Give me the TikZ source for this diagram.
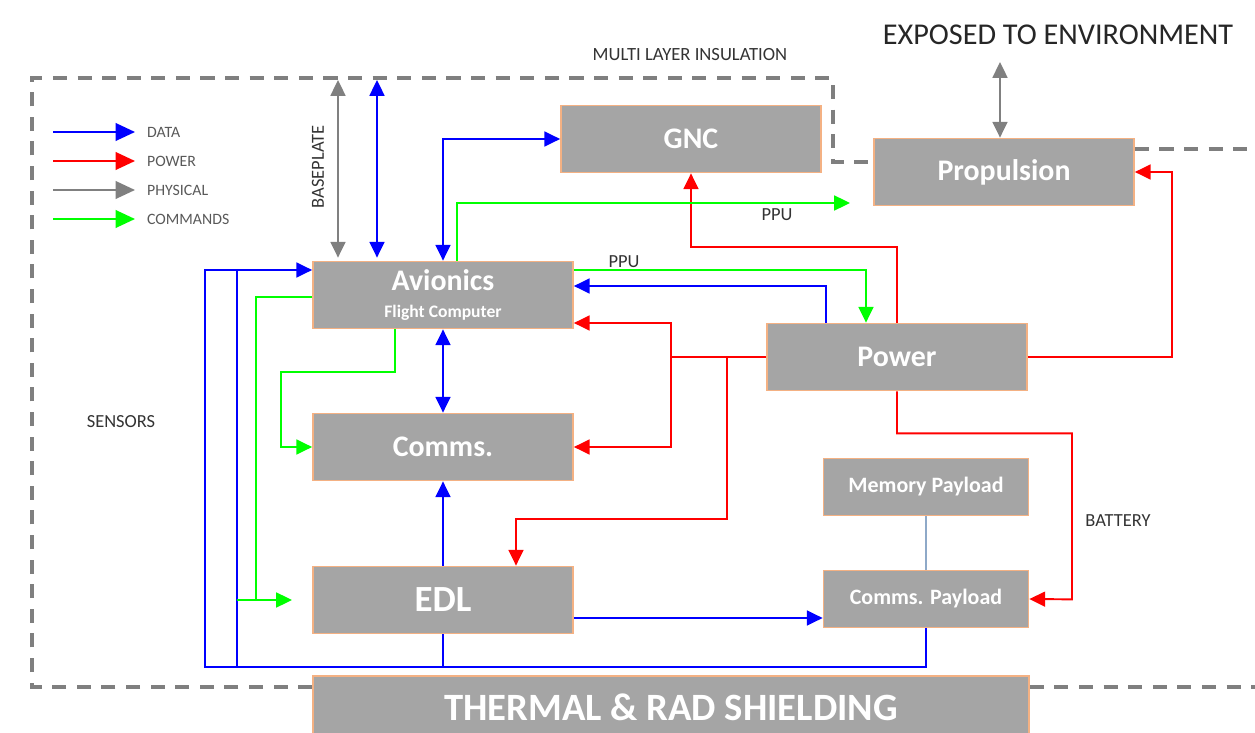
\documentclass[tikz,border=0pt]{standalone}
\usepackage{fontspec}
\setmainfont{Carlito}
\usetikzlibrary{arrows.meta, calc, backgrounds}

\definecolor{boxgray}{HTML}{A5A5A5}
\definecolor{boxedge}{HTML}{F4B183}
\definecolor{mligray}{HTML}{7F7F7F}
\definecolor{physgray}{HTML}{808080}
\definecolor{linkblue}{HTML}{8EA9C8}

\tikzset{
  % Subsystem blocks
  block/.style={
    draw=boxedge, fill=boxgray, line width=1pt,
    text=white, font=\bfseries\fontsize{17}{19}\selectfont,
    align=center, inner sep=0pt,
    minimum width=5.2cm, minimum height=1.34cm
  },
  blockSmall/.style={
    block, font=\bfseries\fontsize{12.5}{14}\selectfont,
    minimum width=4.1cm, minimum height=1.14cm
  },
  % Insulation boundary
  mli/.style={
    draw=mligray, line width=2.2pt, dash pattern=on 8pt off 6pt
  },
  % Small labels
  note/.style={font=\fontsize{10.5}{12}\selectfont, text=black!80, inner sep=1pt},
  legtext/.style={font=\fontsize{9}{10}\selectfont, text=black!65, inner sep=1pt},
  % Connectors
  dataline/.style={draw=blue, line width=1.1pt, >={Triangle[length=9pt,width=8.5pt]}},
  powerline/.style={draw=red, line width=1.1pt, >={Triangle[length=9pt,width=8.5pt]}},
  physline/.style={draw=physgray, line width=1.1pt, >={Triangle[length=9pt,width=8.5pt]}},
  cmdline/.style={draw=green, line width=1.1pt, >={Triangle[length=9pt,width=8.5pt]}},
  plink/.style={draw=linkblue, line width=1.1pt},
}

\begin{document}
\begin{tikzpicture}[x=0.02cm, y=-0.02cm]

  \useasboundingbox (0,0) rectangle (1255,733);

  %% -- Blocks --
  \node[block] (gnc)   at (691,139)  {GNC};
  \node[block] (prop)  at (1004,172) {Propulsion};
  \node[block] (avio)  at (443,295)  {Avionics\\[-4pt]{\fontsize{10}{11}\selectfont Flight Computer}};
  \node[block] (power) at (897,357)  {Power};
  \node[block] (comms) at (443,447)  {Comms.};
  \node[block, font=\bfseries\fontsize{21}{23}\selectfont] (edl) at (443,600) {EDL};
  \node[blockSmall] (mpay) at (926,487) {Memory Payload};
  \node[blockSmall] (cpay) at (926,599) {Comms. Payload};
  \node[block, minimum width=14.32cm, minimum height=1.24cm,
        font=\bfseries\fontsize{22}{24}\selectfont] (shield) at (671,707) {THERMAL \& RAD SHIELDING};

  %% -- Labels --
  \node[note, font=\fontsize{10.6}{12}\selectfont] (mliLbl) at (690,55) {MULTI LAYER INSULATION};
  \node[font=\fontsize{17.2}{19}\selectfont, text=black!85] (envLbl) at (1058,35) {EXPOSED TO ENVIRONMENT};
  \node[note] (sensLbl) at (121,422) {SENSORS};
  \node[note, rotate=90] (baseLbl) at (318,167) {BASEPLATE};
  \node[note] (ppuLblA) at (777,215) {PPU};
  \node[note] (ppuLblB) at (624,262) {PPU};
  \node[note] (battLbl) at (1118,521) {BATTERY};

  %% -- Free ends --
  \coordinate (ppuEnd)  at (850,203);
  \coordinate (bpTop)   at (338,80);
  \coordinate (dtTop)   at (377,80);
  \coordinate (envEnd)  at (1000,62);
  \coordinate (pj1)     at (671,357);
  \coordinate (pj2)     at (727,357);
  \coordinate (edlCmd)  at (292,600);

  %% -- Insulation boundary --
  \begin{scope}[on background layer]
    \draw[mli] (shield.west |- 0,687) -- (32,687) -- (32,78) -- (833,78) -- (833,162) -- (prop.west |- 0,162);
    \draw[mli] ($(prop.east)+(0,-23)$) -- (1255,149);
    \draw[mli] (shield.east |- 0,687) -- (1255,687);
  \end{scope}

  %% -- Legend --
  \foreach \col/\txt [count=\i] in {blue/DATA, red/POWER, physgray/PHYSICAL, green/COMMANDS}{
    \coordinate (legS\i) at (53,103+29*\i);
    \coordinate (legE\i) at (135,103+29*\i);
    \node[legtext, anchor=west] (leg\i) at (145,103+29*\i) {\txt};
    \draw[\col, line width=1.1pt, -{Triangle[length=11pt,width=10pt]}] (legS\i) -- (legE\i);
  }

  %% -- Physical --
  \draw[physline, <->] (bpTop) -- ($(avio.north)+(-105,-3)$);
  \draw[physline, <->] ($(prop.north)+(-4,0)$) -- (envEnd);

  %% -- Data --
  \draw[dataline, <->] (dtTop) -- ($(avio.north)+(-66,-3)$);
  \draw[dataline, <->] (avio.north) |- (gnc.west);
  \draw[dataline, ->] ($(power.north)+(-71,0)$) |- ($(avio.east)+(0,-9)$);
  \draw[dataline, <->] (avio.south) -- (comms.north);
  \draw[dataline, ->] (edl.north) -- (comms.south);
  \draw[dataline, ->] ($(edl.east)+(0,18)$) -- ($(cpay.west)+(0,19)$);
  \draw[dataline, ->] (edl.south) -- ++(0,33) -| (205,270) -- ($(avio.west)+(0,-25)$);
  \draw[dataline] (cpay.south) -- ++(0,39) -| (237,270);

  %% -- Power --
  \draw[powerline, ->] (power.north) -- ++(0,-76) -| (gnc.south);
  \draw[powerline, ->] (power.east) -- ++(144,0) |- (prop.east);
  \draw[powerline] (power.west) -- (pj1);
  \draw[powerline, ->] (pj1) |- ($(avio.east)+(0,28)$);
  \draw[powerline, ->] (pj1) |- (comms.east);
  \draw[powerline, ->] (pj2) -- ++(0,162) -| ($(edl.north)+(73,0)$);
  \draw[powerline, ->] (power.south) -- ++(0,42) -| ++(175,166) -- (cpay.east);

  %% -- Commands --
  \draw[cmdline, ->] ($(avio.north)+(14,0)$) |- (ppuEnd);
  \draw[cmdline, ->] ($(avio.east)+(0,-25)$) -| ($(power.north)+(-31,0)$);
  \draw[cmdline, ->] ($(avio.south)+(-48,0)$) -- ++(0,43) -| ($(comms.west)+(-31,0)$) -- (comms.west);
  \draw[cmdline] ($(avio.west)+(0,2)$) -| (256,600);
  \draw[cmdline, ->] (237,600) -- (edlCmd);

  %% -- Payload link --
  \draw[plink] (mpay) -- (cpay);

\end{tikzpicture}
\end{document}
